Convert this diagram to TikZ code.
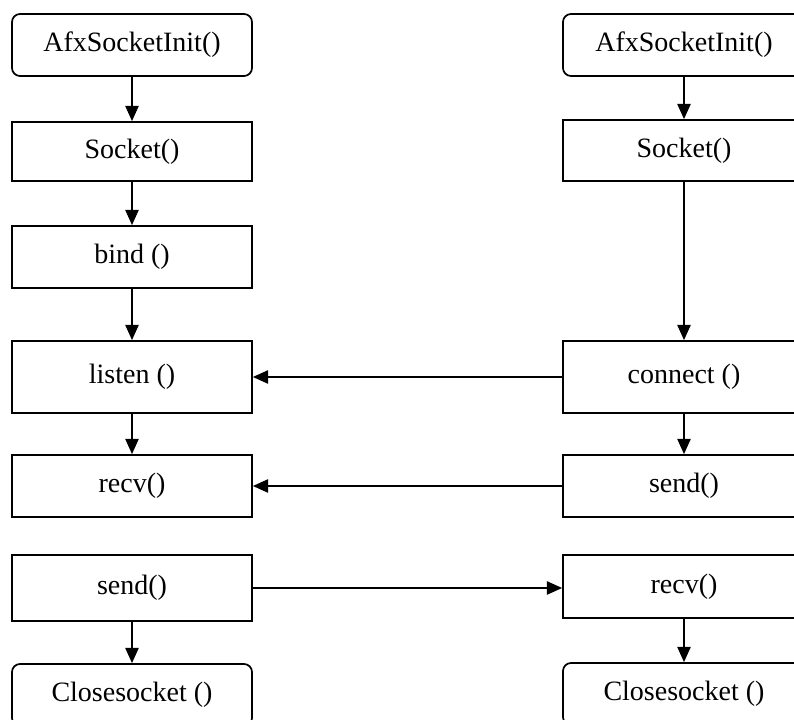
\documentclass[tikz,border=0pt]{standalone}
\usepackage{fontspec}
\setmainfont{Liberation Serif}
\usetikzlibrary{arrows.meta}
\begin{document}
\begin{tikzpicture}[x=0.75pt,y=-0.75pt,
  box/.style={draw, line width=1.3pt, minimum width=180pt, inner sep=0pt, font=\fontsize{21}{24}\selectfont},
  rbox/.style={box, rounded corners=6pt},
  wbox/.style={box, minimum width=181.5pt},
  arr/.style={line width=1.3pt, -{Triangle[length=11.5pt,width=10pt]}}]
\useasboundingbox (0,0) rectangle (794,720);
\clip (0,0) rectangle (794,720);
% left column
\node[rbox, minimum height=46.5pt] (la) at (132,45) {AfxSocketInit()};
\node[box, minimum height=44.25pt] (ls) at (132,151.5) {Socket()};
\node[box, minimum height=46.5pt] (lb) at (132,257) {bind ()};
\node[box, minimum height=54pt] (ll) at (132,377) {listen ()};
\node[box, minimum height=46.5pt] (lr) at (132,486) {recv()};
\node[box, minimum height=49.5pt] (lsd) at (132,588) {send()};
\node[rbox, minimum height=46.5pt] (lc) at (132,695) {Closesocket ()};
% right column
\node[rbox, wbox, minimum height=46.5pt] (ra) at (684,45) {AfxSocketInit()};
\node[wbox, minimum height=45.75pt] (rs) at (684,150.5) {Socket()};
\node[wbox, minimum height=54pt] (rc) at (684,377) {connect ()};
\node[wbox, minimum height=46.5pt] (rsd) at (684,486) {send()};
\node[wbox, minimum height=47.25pt] (rr) at (684,586.5) {recv()};
\node[rbox, wbox, minimum height=46.5pt] (rc2) at (684,694) {Closesocket ()};
% vertical arrows
\draw[arr] (la) -- (ls);
\draw[arr] (ls) -- (lb);
\draw[arr] (lb) -- (ll);
\draw[arr] (ll) -- (lr);
\draw[arr] (lsd) -- (lc);
\draw[arr] (ra) -- (rs);
\draw[arr] (rs) -- (rc);
\draw[arr] (rc) -- (rsd);
\draw[arr] (rr) -- (rc2);
% horizontal arrows
\draw[arr] (rc.west) -- (ll.east);
\draw[arr] (rsd.west) -- (lr.east);
\draw[arr] (lsd.east) -- (lsd.east -| rr.west);
\end{tikzpicture}
\end{document}
